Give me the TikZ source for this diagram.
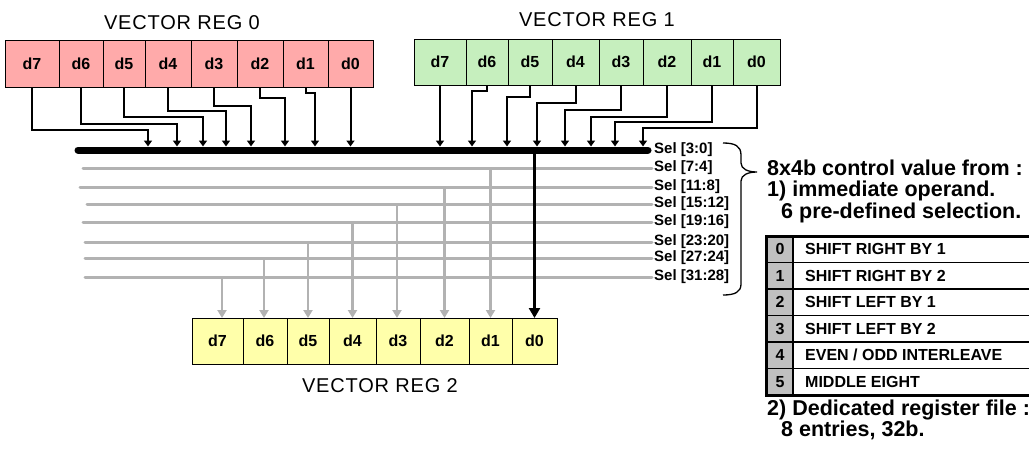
\documentclass[tikz,border=0pt]{standalone}
\usepackage{fontspec}
\setmainfont{Liberation Sans}
\usetikzlibrary{arrows.meta}
\definecolor{regpink}{RGB}{255,170,170}
\definecolor{reggreen}{RGB}{198,239,190}
\definecolor{regyellow}{RGB}{255,255,170}
\definecolor{selgray}{RGB}{178,178,178}
\definecolor{idxgray}{RGB}{192,192,192}

\begin{document}
\begin{tikzpicture}[x=1pt,y=-1pt,
  cell/.style={draw,line width=1pt,inner sep=0pt,outer sep=0pt,font=\bfseries\fontsize{16}{18}\selectfont},
  reglabel/.style={font=\fontsize{20}{22}\selectfont\addfontfeature{LetterSpace=4}},
  wire/.style={line width=2pt,-{Triangle[length=6pt,width=8pt]}},
  bus/.style={line width=7pt,line cap=round},
  selline/.style={selgray,line width=3pt,line cap=round},
  drop/.style={selgray,line width=2.5pt,-{Triangle[length=8pt,width=9pt]}},
  sellabel/.style={anchor=west,inner sep=2pt,font=\bfseries\fontsize{15}{16}\selectfont},
  note/.style={anchor=west,inner sep=0pt,font=\bfseries\fontsize{21.5}{24}\selectfont},
  tabtext/.style={anchor=west,inner sep=0pt,font=\bfseries\fontsize{16}{18}\selectfont}]
\useasboundingbox (0,0) rectangle (1029,448);
\clip (0,0) rectangle (1029,448);

% registers
\foreach \l/\r/\n in {5/59/7,59/103/6,103/145/5,145/191/4,191/237/3,237/283/2,283/328/1,328/373/0}
  \node[cell,fill=regpink,minimum width={\r-\l},minimum height=47pt] (r0d\n) at ({(\l+\r)/2},64) {d\n};
\foreach \l/\r/\n in {414/466/7,466/508/6,508/552/5,552/599/4,599/643/3,643/691/2,691/733/1,733/780/0}
  \node[cell,fill=reggreen,minimum width={\r-\l},minimum height=46pt] (r1d\n) at ({(\l+\r)/2},62) {d\n};
\foreach \l/\r/\n in {192/243/7,243/287/6,287/329/5,329/376/4,376/420/3,420/469/2,469/512/1,512/557/0}
  \node[cell,fill=regyellow,minimum width={\r-\l},minimum height=46pt] (r2d\n) at ({(\l+\r)/2},341) {d\n};
\node[reglabel] (lab0) at (182,23) {VECTOR REG 0};
\node[reglabel] (lab1) at (597,20) {VECTOR REG 1};
\node[reglabel] (lab2) at (380,386) {VECTOR REG 2};

% select fields
\foreach \i/\y/\t in {0/150/{Sel [3:0]},1/168/{Sel [7:4]},2/187/{Sel [11:8]},3/204/{Sel [15:12]},
    4/222/{Sel [19:16]},5/242/{Sel [23:20]},6/258/{Sel [27:24]},7/277/{Sel [31:28]}}
  \node[sellabel] (sel\i) at (652,\y) {\t};
\foreach \i/\xl in {1/83,2/80,3/87,4/83,5/85,6/85,7/85} {
  \coordinate (sw\i) at (\xl,0 |- sel\i.west);
  \draw[selline] (sw\i) -- (sel\i.west);
}
\coordinate (busw) at (78,150);
\draw[bus] (busw) -- ([xshift=-4pt]sel0.west);

% inputs to the bus
\foreach \c/\xa/\yb in {7/148/130,6/177/124,5/203/117,4/226/111,3/251/106,2/285/98,1/315/93,0/350.5/120}
  \draw[wire,shorten >=3.5pt] (r0d\c.south) |- (\xa,\yb) -- (\xa,0 |- busw);
\foreach \c/\xa/\yb in {7/440/110,6/472/91,5/507/97,4/537/103,3/565/110,2/591/117,1/615/122,0/643/128}
  \draw[wire,shorten >=3.5pt] (r1d\c.south) |- (\xa,\yb) -- (\xa,0 |- busw);

% outputs
\foreach \i/\dx in {1/0,2/0,3/-1,4/0,5/0,6/-1,7/4.5} {
  \path (r2d\i.north) ++(\dx,0) coordinate (dn\i);
  \draw[drop] (dn\i |- sel\i.west) -- (dn\i);
}
\draw[line width=3pt,-{Triangle[length=10pt,width=11pt]}] (r2d0.north |- busw) -- (r2d0.north);

% brace
\draw[line width=1.3pt] (723,143) .. controls (735,143) and (741,146) .. (741,155) -- (741,163)
  .. controls (741,169) and (748,172) .. (757,172)
  .. controls (748,172) and (741,175) .. (741,181) -- (741,284)
  .. controls (741,292) and (735,295) .. (723,295);

\node[note] (hd1) at (767,168) {8x4b control value from :};
\node[note] (hd2) at (767,191) {1) immediate operand.};
\node[note] (hd3) at (781,213) {6 pre-defined selection.};

% table
\fill[idxgray] (766,236) rectangle (793,395);
\foreach \y in {262.5,289,315.5,342,368.5}
  \draw[line width=1.5pt] (766,\y) -- (1035,\y);
\draw[line width=1.5pt] (793,236) -- (793,395);
\draw[line width=3pt] (766,236) rectangle (1035,395);
\foreach \i/\t in {0/{SHIFT RIGHT BY 1},1/{SHIFT RIGHT BY 2},2/{SHIFT LEFT BY 1},3/{SHIFT LEFT BY 2},
    4/{EVEN / ODD INTERLEAVE},5/{MIDDLE EIGHT}} {
  \node[tabtext,anchor=center] (idx\i) at (780,{249.25+26.5*\i}) {\i};
  \node[tabtext] (row\i) at (805,{249.25+26.5*\i}) {\t};
}

\node[note] (ft1) at (767,410) {2) Dedicated register file :};
\node[note] (ft2) at (781,430) {8 entries, 32b.};

\end{tikzpicture}
\end{document}
